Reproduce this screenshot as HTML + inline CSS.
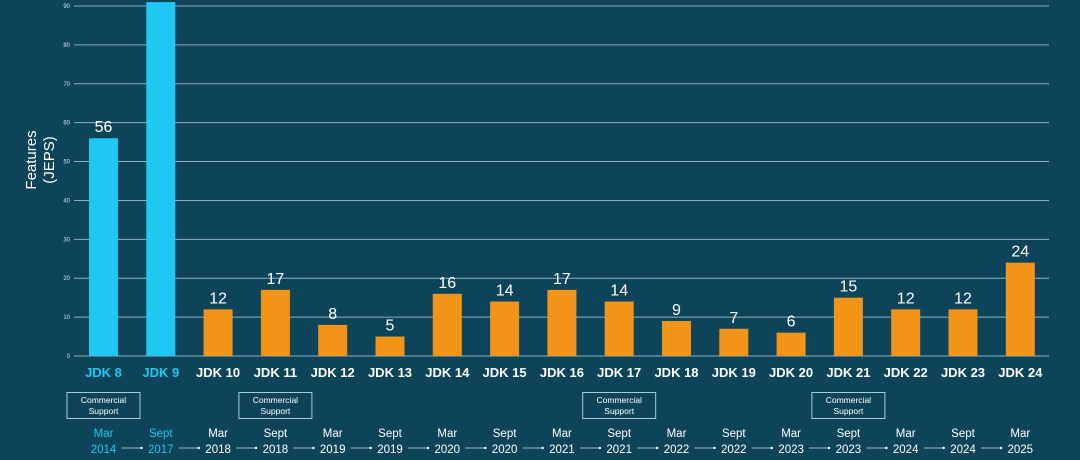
<!DOCTYPE html>
<html><head><meta charset="utf-8"><style>
html,body{margin:0;padding:0;background:#0e4459;}
svg{display:block;font-family:"Liberation Sans",sans-serif;}
</style></head><body>
<svg width="1080" height="460" viewBox="0 0 1080 460" xmlns="http://www.w3.org/2000/svg">
<rect width="1080" height="460" fill="#0e4459"/>
<g id="grid" stroke="#a9cdd8" stroke-width="1" opacity="0.8"></g>
<g id="ticks" fill="#cfe3ea" font-size="6"></g>
<g id="bars"></g>
<text transform="translate(36,160) rotate(-90)" text-anchor="middle" fill="#ffffff" font-size="15"><tspan x="0" dy="0">Features</tspan><tspan x="0" dy="18">(JEPS)</tspan></text>
</svg>
<script>
const ns="http://www.w3.org/2000/svg";
function el(t,a,p,txt){const e=document.createElementNS(ns,t);for(const k in a)e.setAttribute(k,a[k]);if(txt!==undefined)e.textContent=txt;p.appendChild(e);return e;}
const svg=document.querySelector('svg');
const g=document.getElementById('grid'),tk=document.getElementById('ticks'),b=document.getElementById('bars');
const y0=356,s=3.889;
for(let v=0;v<=90;v+=10){const y=y0-v*s;el('line',{x1:74,x2:1049,y1:y,y2:y},g);el('text',{x:70,y:y+2,'text-anchor':'end'},tk,v);}
const vals=[56,91,12,17,8,5,16,14,17,14,9,7,6,15,12,12,24];
const dates=[["Mar","2014"],["Sept","2017"],["Mar","2018"],["Sept","2018"],["Mar","2019"],["Sept","2019"],["Mar","2020"],["Sept","2020"],["Mar","2021"],["Sept","2021"],["Mar","2022"],["Sept","2022"],["Mar","2023"],["Sept","2023"],["Mar","2024"],["Sept","2024"],["Mar","2025"]];
const boxes=[0,3,9,13];
vals.forEach((v,i)=>{
 const c=103.5+57.3*i, cyan=i<2, col=cyan?'#1ec8f2':'#f29418';
 const top=y0-Math.min(v,91)*s;
 el('rect',{x:c-14.5,y:top,width:29,height:y0-top,fill:col},b);
 if(i!==1) el('text',{x:c,y:top-6,'text-anchor':'middle',fill:'#fff','font-size':16},b,v);
 el('text',{x:c,y:377,'text-anchor':'middle',fill:cyan?'#1ec8f2':'#fff','font-size':13,'font-weight':'bold'},b,'JDK '+(i+8));
 const dc=cyan?'#1ec8f2':'#fff';
 el('text',{x:c,y:437,'text-anchor':'middle',fill:dc,'font-size':11.5},b,dates[i][0]);
 el('text',{x:c,y:453,'text-anchor':'middle',fill:dc,'font-size':11.5},b,dates[i][1]);
 if(i<16){el('line',{x1:c+18,x2:c+38,y1:448,y2:448,stroke:'#cfe3ea','stroke-width':0.8},b);el('circle',{cx:c+38,cy:448,r:1.2,fill:'#fff'},b);}
 if(boxes.includes(i)){el('rect',{x:c-36.5,y:392.5,width:73,height:26,fill:'none',stroke:'#a9cdd8','stroke-width':1},b);
  el('text',{x:c,y:403,'text-anchor':'middle',fill:'#fff','font-size':8.5},b,'Commercial');
  el('text',{x:c,y:414,'text-anchor':'middle',fill:'#fff','font-size':8.5},b,'Support');}
});
</script>
</body></html>
